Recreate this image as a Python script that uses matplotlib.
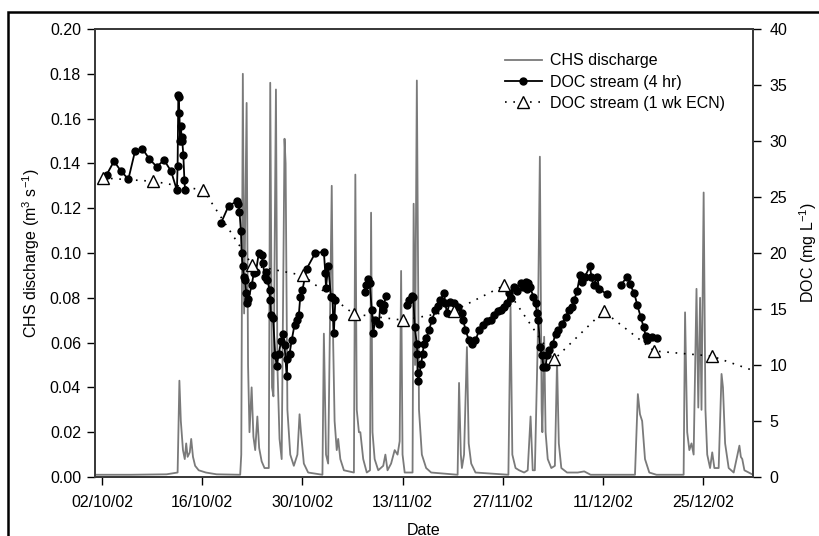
import matplotlib
matplotlib.use('Agg')
from matplotlib import pyplot as plt
from matplotlib.patches import Rectangle
import matplotlib.dates as mdates
import numpy as np
import pandas as pd

plt.rcParams['font.family'] = ['Liberation Sans', 'DejaVu Sans']
plt.rcParams['mathtext.default'] = 'regular'

start = pd.Timestamp('2002-10-01')

# CHS discharge (m3/s), time as days after 1 Oct 2002
q_day = [0.0, 5.0, 10.0, 11.55, 11.8, 12.0, 12.3, 12.55, 12.75, 12.95, 13.25, 13.45,
         13.7, 14.0, 14.5, 15.5, 17.0, 20.3,
         20.45, 20.67, 20.85, 21.2, 21.4, 21.6, 21.9, 22.15, 22.4, 22.7, 22.95, 23.3,
         23.7, 24.3, 24.5, 24.75, 24.95, 25.3, 25.5, 25.8, 26.1, 26.5, 26.65, 26.9,
         27.3, 27.8, 28.3, 28.6, 28.8, 29.2, 29.8, 31.8,
         32.0, 32.3, 32.6, 33.1, 33.3, 33.5, 33.8, 34.0, 34.3, 34.8, 36.2,
         36.4, 36.6, 36.9, 37.1, 37.5, 38.0, 38.45,
         38.6, 38.8, 39.1, 39.6, 40.3, 40.6, 40.9, 41.4, 41.9, 42.3, 42.6, 42.8, 43.0,
         43.3, 44.4, 44.55, 44.75, 45.0, 45.3, 45.7, 46.3, 47.0, 50.7,
         50.9, 51.15, 51.3, 51.6, 52.0, 52.25, 52.6, 53.2, 57.8,
         58.1, 58.35, 58.8, 59.3, 60.0, 60.5, 60.9, 61.2, 61.5, 61.9, 62.2, 62.45,
         62.55, 62.8, 63.0, 63.3, 63.8, 64.3, 64.6, 64.85, 65.2, 66.0, 67.5, 68.4,
         69.3, 75.5,
         75.9, 76.2, 76.5, 76.9, 77.5, 78.5, 82.3,
         82.5, 82.8, 83.1, 83.4, 83.7, 84.1, 84.35, 84.6, 84.8, 85.1, 85.35, 85.6,
         86.0, 86.3, 86.6, 87.2, 87.6, 87.8, 88.1, 88.6, 89.3, 90.1, 90.3, 90.5,
         90.8, 92.0]
q_val = [0.001, 0.001, 0.0012, 0.002, 0.043, 0.025, 0.012, 0.008, 0.015, 0.009, 0.011, 0.017,
         0.009, 0.005, 0.003, 0.002, 0.0012, 0.001,
         0.01, 0.180, 0.073, 0.167, 0.05, 0.02, 0.040, 0.018, 0.012, 0.027, 0.013, 0.007,
         0.004, 0.004, 0.176, 0.04, 0.036, 0.173, 0.05, 0.017, 0.008, 0.151, 0.14, 0.03,
         0.01, 0.005, 0.01, 0.028, 0.02, 0.006, 0.002, 0.001,
         0.064, 0.01, 0.006, 0.130, 0.06, 0.025, 0.012, 0.017, 0.008, 0.003, 0.002,
         0.135, 0.03, 0.02, 0.02, 0.008, 0.002, 0.003,
         0.118, 0.02, 0.008, 0.003, 0.005, 0.010, 0.003, 0.006, 0.012, 0.010, 0.016, 0.092, 0.01,
         0.002, 0.002, 0.122, 0.05, 0.177, 0.03, 0.01, 0.004, 0.002, 0.001,
         0.042, 0.01, 0.004, 0.01, 0.058, 0.015, 0.006, 0.002, 0.001,
         0.076, 0.01, 0.004, 0.003, 0.002, 0.003, 0.027, 0.003, 0.003, 0.06, 0.143, 0.03,
         0.02, 0.0626, 0.02, 0.008, 0.004, 0.005, 0.052, 0.015, 0.004, 0.002, 0.002, 0.0025,
         0.001, 0.001,
         0.037, 0.028, 0.025, 0.008, 0.002, 0.001, 0.001,
         0.0735, 0.02, 0.012, 0.015, 0.01, 0.084, 0.031, 0.08, 0.03, 0.127, 0.03, 0.01,
         0.004, 0.011, 0.004, 0.004, 0.046, 0.040, 0.015, 0.004, 0.002, 0.014, 0.009, 0.008,
         0.003, 0.001]

# DOC stream, 4-hourly (mg/L); None marks gaps in the record
doc4_day = [1.64, 2.66, 3.64, 4.67, 5.6, 6.63, 7.6, 8.63, 9.66, 10.64, 11.45, 11.55,
            11.65, 11.7, 11.8, 11.9, 12.0, 12.1, 12.2, 12.35, 12.5, 12.6, None,
            17.64, 18.67, 19.8, 20.06, 20.2, 20.4, 20.5, 20.65, 20.8, 21.0, 21.15, 21.3,
            21.45, 21.9, 22.2, 22.5, 22.9, 23.3, 23.5, 23.7, 23.9, 24.1, 24.4, 24.5, 24.6,
            24.9, 25.2, 25.4, 25.7, 26.0, 26.3, 26.5, 26.8, 26.9, 27.2, 27.5, 27.9, 28.2,
            28.5, 28.7, 29.0, 29.6, 30.8, 32.0, 32.2, 32.3, 32.6, 33.0, 33.2, 33.3, 33.4,
            33.6, None,
            37.7, 37.9, 38.2, 38.4, 38.7, 38.9, 39.2, 39.7, 39.9, 40.2, 40.4, 40.7, None,
            43.6, 43.9, 44.3, 44.5, 44.7, 45.0, 45.05, 45.1, 45.2, 45.6, 45.8, 46.0, 46.3,
            46.7, 47.1, 47.6, 47.9, 48.3, 48.8, 49.0, 49.2, 49.6, 50.2, 50.8, 51.3, 51.5,
            51.8, 52.3, 52.7, 53.2, 53.7, 54.2, 54.8, 55.3, 55.8, 56.3, 56.7, 57.2, 57.6,
            57.9, 58.2, 58.6, 59.0, 59.5, 59.9, 60.2, 60.4, 60.6, 60.8, 61.3, 61.6, 61.8,
            62.0, 62.2, 62.5, 62.7, 63.0, 63.2, 63.5, 64.0, 64.4, 64.8, 65.3, 65.8, 66.3,
            66.7, 67.0, 67.4, 67.8, 68.1, 68.5, 69.2, 69.4, 69.7, 70.2, 70.5, 71.6, None,
            73.5, 74.4, 74.8, 75.4, 75.8, 76.3, 76.7, 77.0, 77.2, 77.9, 78.6]
doc4_val = [27.0, 28.2, 27.3, 26.6, 29.1, 29.3, 28.4, 27.7, 28.3, 27.3, 25.6, 27.8,
            34.1, 33.9, 32.5, 30.0, 31.3, 30.4, 30.0, 28.75, 26.5, 25.6, None,
            22.7, 24.2, 24.6, 24.4, 23.7, 22.0, 20.0, 18.8, 17.9, 17.6, 16.4, 15.5,
            15.9, 17.1, 18.2, 18.3, 20.0, 19.8, 19.1, 17.9, 18.3, 17.6, 16.7, 15.8, 14.5,
            14.2, 10.9, 9.9, 11.0, 12.1, 12.8, 11.8, 9.0, 10.5, 11.0, 12.2, 13.6, 14.0,
            14.5, 16.1, 16.7, 18.6, 20.0, 20.1, 18.2, 16.9, 18.8, 16.1, 16.1, 14.3, 12.9,
            15.8, None,
            16.5, 17.1, 17.7, 17.3, 14.9, 12.9, 14.0, 13.7, 15.5, 14.9, 15.4, 16.2, None,
            15.4, 15.8, 16.2, 16.1, 13.4, 11.9, 11.0, 9.3, 8.6, 10.1, 11.0, 11.9, 12.4,
            13.1, 14.0, 14.9, 15.3, 15.8, 16.4, 15.5, 14.6, 15.6, 15.5, 15.2, 14.6, 14.0,
            13.1, 12.2, 11.9, 12.2, 13.1, 13.6, 13.9, 14.0, 14.5, 14.8, 14.9, 15.2, 15.5,
            16.4, 16.0, 17.0, 16.6, 17.3, 17.0, 17.4, 16.8, 17.3, 17.0, 16.1, 15.5, 14.6,
            14.0, 11.6, 10.9, 9.85, 9.85, 10.9, 11.3, 11.9, 12.8, 13.1, 13.7, 14.3, 14.9,
            15.2, 15.8, 16.6, 18.0, 17.4, 17.9, 18.8, 17.9, 17.1, 17.9, 16.8, 16.3, None,
            17.1, 17.9, 17.2, 16.4, 15.4, 14.3, 13.4, 12.6, 12.2, 12.5, 12.4]

# DOC stream, weekly ECN samples (mg/L)
ecn_day = [1.07, 8.17, 15.17, 22.0, 29.07, 36.2, 43.1, 50.2, 57.2, 64.2, 71.1, 78.2,
           86.2, 93.2]
ecn_val = [26.7, 26.4, 25.6, 18.9, 18.0, 14.55, 14.0, 14.85, 17.1, 10.5, 14.8, 11.25,
           10.8, 9.25]

tick_dates = ['2002-10-02', '2002-10-16', '2002-10-30', '2002-11-13',
              '2002-11-27', '2002-12-11', '2002-12-25']


def to_dates(days):
    # None -> NaT so the line breaks at gaps
    out = []
    for d in days:
        out.append(pd.NaT if d is None else start + pd.Timedelta(days=d))
    return pd.DatetimeIndex(out)


def to_vals(vals):
    return np.array([np.nan if v is None else v for v in vals], dtype=float)


fs = 11.5
fig = plt.figure(figsize=(8.19, 5.36), dpi=100)
ax = fig.add_axes([95 / 819, 1 - 477 / 536, (753 - 95) / 819, (477 - 29) / 536])
ax2 = ax.twinx()

l1, = ax.plot(to_dates(q_day), q_val, color='#7a7a7a', lw=1.3, label='CHS discharge')
l2, = ax2.plot(to_dates(doc4_day), to_vals(doc4_val), color='black', lw=1.3,
               marker='o', ms=5, label='DOC stream (4 hr)')
l3, = ax2.plot(to_dates(ecn_day), ecn_val, color='black', lw=1.2, ls=(0, (1, 4)),
               marker='^', ms=8, mfc='white', mec='black', mew=1.0,
               label='DOC stream (1 wk ECN)')

ax.set_xlim(start, start + pd.Timedelta(days=92))
ax.set_ylim(0, 0.20)
ax2.set_ylim(0, 40)
ax.set_yticks(np.arange(0, 0.201, 0.02))
ax2.set_yticks(np.arange(0, 41, 5))
ax.set_xticks(pd.to_datetime(tick_dates))
ax.xaxis.set_major_formatter(mdates.DateFormatter('%d/%m/%y'))

for a in (ax, ax2):
    a.tick_params(direction='out', length=6, width=1, labelsize=fs, colors='black')
    for s in a.spines.values():
        s.set_color('#3a3a3a')
        s.set_linewidth(1.3)
ax.tick_params(axis='x', pad=7)
ax.tick_params(axis='y', pad=4)
ax2.tick_params(axis='y', pad=6)

ax.set_xlabel('Date', fontsize=fs, labelpad=9)
ax.set_ylabel('CHS discharge (m$^3$ s$^{-1}$)', fontsize=fs, labelpad=6)
ax2.set_ylabel('DOC (mg L$^{-1}$)', fontsize=fs, labelpad=7)

ax2.legend(handles=[l1, l2, l3], loc='upper left', bbox_to_anchor=(0.623, 0.946),
           frameon=False, fontsize=fs, handlelength=2.3, handletextpad=0.5,
           labelspacing=0.4, borderpad=0, borderaxespad=0)

# outer frame line (top and left edges visible)
fig.patches.append(Rectangle((8 / 819, -0.1), 1.2, 1.1 - 12 / 536,
                             transform=fig.transFigure, fill=False,
                             edgecolor='black', lw=1.8))

fig.savefig('out.png', dpi=100)
